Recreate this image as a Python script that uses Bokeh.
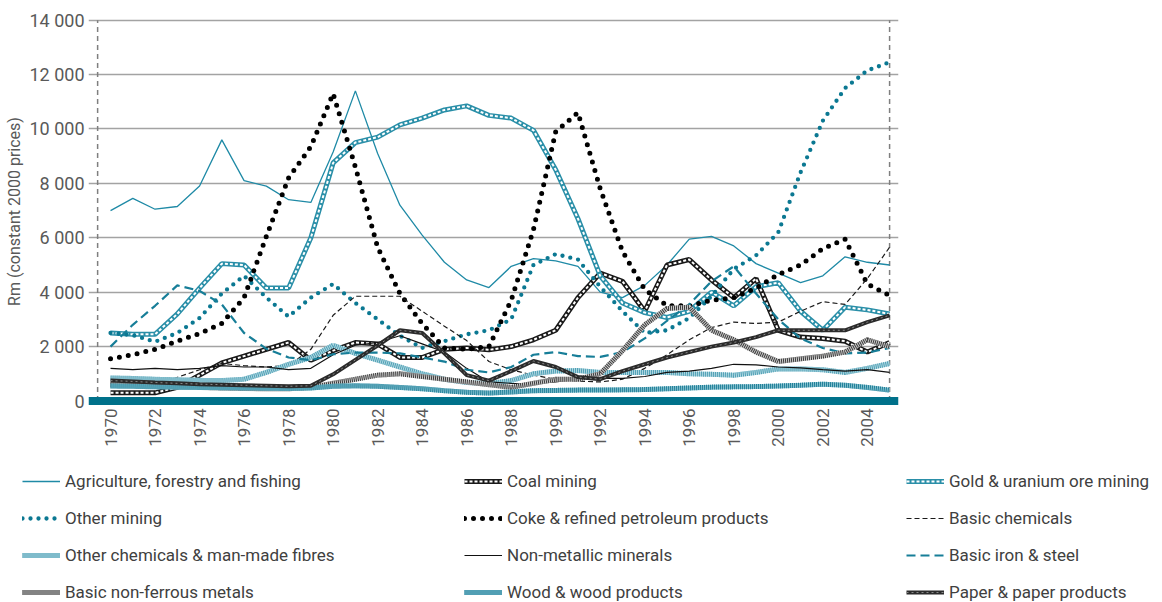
import math
from bokeh.plotting import figure
from bokeh.layouts import column
from bokeh.models import Range1d, FixedTicker, Span, Legend, LegendItem
from bokeh.embed import file_html
from bokeh.resources import INLINE

# ---------------- data (Rm, constant 2000 prices) ----------------
years = list(range(1970, 2006))

agriculture = [7000, 7450, 7050, 7150, 7900, 9600, 8100, 7900, 7400, 7300,
               9150, 11400, 9100, 7200, 6100, 5100, 4450, 4170, 4950, 5230,
               5150, 4950, 4000, 3800, 4250, 5000, 5950, 6050, 5700, 5050,
               4700, 4350, 4600, 5300, 5100, 5000]
coal = [300, 300, 300, 500, 950, 1400, 1650, 1900, 2150, 1500,
        1850, 2150, 2100, 1600, 1600, 1900, 1950, 1880, 2000, 2250,
        2600, 3800, 4700, 4400, 3300, 5000, 5200, 4450, 3800, 4500,
        2600, 2350, 2300, 2200, 1800, 2150]
gold = [2500, 2450, 2450, 3200, 4150, 5050, 5000, 4150, 4150, 6000,
        8750, 9500, 9700, 10150, 10400, 10700, 10850, 10500, 10400, 9950,
        8500, 6700, 4600, 3600, 3250, 3070, 3300, 4000, 3500, 4200,
        4350, 3300, 2600, 3450, 3350, 3200]
other_mining = [2500, 2420, 2180, 2500, 3050, 3950, 4600, 3800, 3100, 3800,
                4300, 3600, 3000, 2400, 1950, 2200, 2450, 2600, 3000, 5000,
                5400, 5200, 4200, 3300, 2500, 2600, 3050, 3850, 4850, 5350,
                6200, 8400, 10300, 11500, 12150, 12450]
coke = [1550, 1700, 1900, 2200, 2480, 2850, 3800, 6050, 8200, 9350,
        11300, 8600, 5650, 3950, 2850, 1950, 1900, 2000, 3700, 6300,
        9900, 10600, 7800, 5500, 4100, 3500, 3500, 3700, 3800, 4150,
        4650, 5000, 5600, 5950, 4300, 3880]
basic_chemicals = [650, 620, 600, 870, 1150, 1380, 1300, 1250, 1300, 1900,
                   3150, 3850, 3850, 3850, 3300, 2750, 2220, 1450, 1150, 950,
                   800, 730, 700, 800, 1200, 1700, 2250, 2700, 2900, 2850,
                   2900, 3300, 3650, 3550, 4500, 5650]
other_chemicals = [850, 830, 800, 780, 760, 750, 800, 1050, 1350, 1600,
                   2050, 1750, 1500, 1250, 1000, 800, 680, 640, 750, 1000,
                   1100, 1120, 1050, 1050, 1050, 1050, 1000, 980, 950, 1050,
                   1180, 1180, 1150, 1050, 1200, 1380]
non_metallic = [1200, 1150, 1200, 1150, 1200, 1300, 1250, 1250, 1150, 1200,
                1700, 2050, 2150, 2400, 2100, 1800, 1200, 700, 650, 640,
                700, 800, 830, 830, 900, 1050, 1100, 1200, 1350, 1330,
                1250, 1220, 1150, 1100, 1150, 1050]
iron_steel = [2000, 2800, 3500, 4250, 4050, 3550, 2500, 1920, 1600, 1500,
              1720, 1780, 1780, 1750, 1600, 1450, 1150, 1050, 1250, 1700,
              1800, 1650, 1620, 1800, 2300, 2950, 3550, 4400, 4950, 3950,
              3000, 2300, 1950, 1750, 1780, 1950]
non_ferrous = [600, 580, 550, 520, 500, 480, 460, 450, 450, 500,
               650, 800, 950, 1000, 900, 800, 700, 600, 500, 650,
               800, 800, 1000, 1850, 2800, 3400, 3450, 2600, 2250, 1800,
               1450, 1550, 1650, 1800, 2250, 2000]
wood = [550, 540, 520, 510, 500, 490, 480, 470, 460, 480,
        540, 560, 540, 500, 450, 380, 320, 290, 330, 380,
        390, 400, 400, 410, 420, 450, 480, 510, 520, 530,
        550, 580, 620, 580, 500, 400]
paper = [750, 720, 680, 650, 620, 600, 580, 560, 540, 560,
         980, 1510, 2040, 2600, 2500, 1750, 950, 750, 1100, 1470,
         1250, 880, 800, 1100, 1350, 1600, 1800, 2000, 2150, 2350,
         2600, 2600, 2600, 2600, 2900, 3150]

series_names = [
    "Agriculture, forestry and fishing", "Coal mining", "Gold & uranium ore mining",
    "Other mining", "Coke & refined petroleum products", "Basic chemicals",
    "Other chemicals & man-made fibres", "Non-metallic minerals", "Basic iron & steel",
    "Basic non-ferrous metals", "Wood & wood products", "Paper & paper products",
]
series_values = [agriculture, coal, gold, other_mining, coke, basic_chemicals,
                 other_chemicals, non_metallic, iron_steel, non_ferrous, wood, paper]

y_ticks = [0, 2000, 4000, 6000, 8000, 10000, 12000, 14000]
y_tick_labels = ["0", "2 000", "4 000", "6 000", "8 000", "10 000", "12 000", "14 000"]
x_ticks = list(range(1970, 2005, 2))

# ---------------- styles ----------------
TEAL = "#00718a"
styles = [
    [dict(line_color="#1f8aa6", line_width=1.3)],
    [dict(line_color="#1a1a1a", line_width=5), dict(line_color="white", line_width=2, line_dash="3 2")],
    [dict(line_color="#2a8fa8", line_width=5), dict(line_color="white", line_width=2, line_dash="3 2")],
    [dict(line_color="#0b7892", line_width=4.3, line_dash="0 8", line_cap="round")],
    [dict(line_color="#000000", line_width=5, line_dash="0 9", line_cap="round")],
    [dict(line_color="#1a1a1a", line_width=1.2, line_dash="5 3")],
    [dict(line_color="#b0d8e2", line_width=5), dict(line_color="#4f9fb4", line_width=5, line_dash="1 1")],
    [dict(line_color="#111111", line_width=1.2)],
    [dict(line_color="#177e98", line_width=2.2, line_dash="9 5")],
    [dict(line_color="#cccccc", line_width=5), dict(line_color="#3a3a3a", line_width=5, line_dash="1 1")],
    [dict(line_color="#86c0cf", line_width=5), dict(line_color="#1f7f98", line_width=5, line_dash="1 1")],
    [dict(line_color="#2b2b2b", line_width=4), dict(line_color="#8a8a8a", line_width=1, line_dash="2 3")],
]

FONT = "Roboto"
TXT = "#595959"
AXIS_LEFT = 1969.42
W = 1162

p = figure(width=W, height=450, output_backend="svg", toolbar_location=None,
           x_range=Range1d(1969.01, 2005.40), y_range=Range1d(-202, 14134),
           min_border_left=88, min_border_right=W - 898, min_border_top=16, min_border_bottom=44)
p.outline_line_color = None
p.xgrid.visible = False
p.ygrid.ticker = FixedTicker(ticks=y_ticks[1:])
p.ygrid.grid_line_color = "#a3a3a3"
p.ygrid.grid_line_width = 1.5

# axes
p.yaxis.ticker = FixedTicker(ticks=y_ticks)
p.yaxis.major_label_overrides = {t: l for t, l in zip(y_ticks, y_tick_labels)}
p.yaxis.axis_label = "Rm (constant 2000 prices)"
p.yaxis.axis_label_text_font = FONT
p.yaxis.axis_label_text_font_size = "16px"
p.yaxis.axis_label_text_font_style = "normal"
p.yaxis.axis_label_text_color = TXT
p.yaxis.axis_label_standoff = 2
p.yaxis.major_label_standoff = 4
p.yaxis.major_label_text_font_size = "18px"
p.xaxis.ticker = FixedTicker(ticks=x_ticks)
p.xaxis.major_label_orientation = math.pi / 2
p.xaxis.major_label_standoff = 2
p.xaxis.major_label_text_font_size = "17px"
for ax in (p.xaxis, p.yaxis):
    ax.axis_line_color = None
    ax.major_tick_line_color = None
    ax.minor_tick_line_color = None
    ax.major_tick_out = 0
    ax.major_tick_in = 0
    ax.minor_tick_out = 0
    ax.major_label_text_font = FONT
    ax.major_label_text_color = TXT

# dashed vertical frame lines
p.segment(x0=[AXIS_LEFT, years[-1]], y0=[0, 0], x1=[AXIS_LEFT, years[-1]], y1=[y_ticks[-1]] * 2,
          line_color="#7f7f7f", line_width=1.5, line_dash="5 4")

for name, vals, layers in zip(series_names, series_values, styles):
    for kw in layers:
        p.line(years, vals, **kw)

p.add_layout(Span(location=0, dimension="width", line_color=TEAL, line_width=8))

# ---------------- legend panel ----------------
lg = figure(width=W, height=152, output_backend="svg", toolbar_location=None,
            x_axis_type=None, y_axis_type=None, x_range=Range1d(0, 1), y_range=Range1d(0, 1),
            min_border_left=0, min_border_right=0, min_border_top=0, min_border_bottom=0,
            frame_align=False)
lg.outline_line_color = None
lg.grid.visible = False
items = []
for name, vals, layers in zip(series_names, series_values, styles):
    # same series drawn in a legend-only panel whose ranges keep them out of view
    rs = [lg.line(years, vals, **kw) for kw in layers]
    items.append(LegendItem(label=name, renderers=rs))

legend = Legend(items=items, location=(22, 0), orientation="horizontal", ncols=3,
                glyph_width=38, glyph_height=20, label_height=20, label_width=382,
                label_standoff=5, spacing=17, padding=0, margin=0,
                border_line_color=None, background_fill_alpha=0,
                label_text_font=FONT, label_text_font_size="17px", label_text_color="#404040")
lg.add_layout(legend, "center")

layout = column(p, lg, spacing=0)
open("out.html", "w").write(file_html(layout, INLINE))
